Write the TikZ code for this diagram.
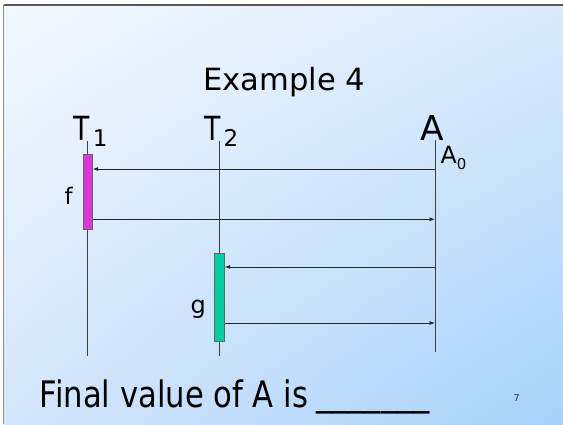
\documentclass[tikz,border=0pt]{standalone}
\usepackage{fontspec}
\setmainfont{DejaVu Sans}
\usepackage{graphicx}
\usetikzlibrary{arrows.meta,shadings}
\definecolor{fondoA}{HTML}{F4F9FE}
\definecolor{fondoB}{HTML}{DAEAFC}
\definecolor{fondoC}{HTML}{D4E6FB}
\definecolor{fondoD}{HTML}{A6D2FA}
\definecolor{magf}{HTML}{DC36D8}
\definecolor{verdeg}{HTML}{00D0A2}
\definecolor{numgris}{HTML}{2F3F55}
\tikzset{
  lbl/.style={inner sep=0pt,anchor=base west},
  lifeline/.style={draw=black!75,line width=0.9pt},
  msg/.style={-{Latex[length=5.5pt,width=4pt]},line width=0.8pt,black!85},
  act/.style={draw=black!60,line width=0.8pt,inner sep=0pt,minimum width=9pt}
}
\newcommand{\fs}[1]{\fontsize{#1}{#1}\selectfont}
\begin{document}
\begin{tikzpicture}[x=1pt,y=-1pt]
  \useasboundingbox (0,0) rectangle (563,424);
  % fondo
  \fill[white] (0,0) rectangle (563,424);
  \shade[upper left=fondoA,upper right=fondoB,lower left=fondoC,lower right=fondoD]
    (3.5,4.5) rectangle (563,424);
  \draw[black!65,line width=2pt] (3.5,4.5)--(563,4.5);
  \draw[black!45,line width=1.5pt] (3.5,4.5)--(3.5,424);
  % titulo
  \node[inner sep=0pt,anchor=base,font=\fs{30.6}] (titulo) at (284.5,90) {Example 4};
  % etiquetas
  \node[lbl,font=\fs{33.3}] (t1) at (73.5,140)
    {\scalebox{.8}[1]{T}\hspace{3pt}\raisebox{-6.7pt}{\fs{23}1}};
  \node[lbl,font=\fs{33.3}] (t2) at (204.5,140)
    {\scalebox{.8}[1]{T}\hspace{2.6pt}\raisebox{-6.7pt}{\fs{23}2}};
  \node[inner sep=0pt,anchor=base,font=\fs{34.3}] (a) at (432,140) {A};
  \node[lbl,font=\fs{23.7}] (a0) at (440.5,163.3)
    {A\raisebox{-6pt}{\fs{15}0}};
  % lineas de vida
  \coordinate (t1top) at (87.7,141); \coordinate (t1bot) at (87.7,356);
  \coordinate (t2top) at (219,141);  \coordinate (t2bot) at (219,356);
  \coordinate (atop) at (435,140);   \coordinate (abot) at (435,351.7);
  \draw[lifeline] (t1top)--(t1bot);
  \draw[lifeline] (t2top)--(t2bot);
  \draw[lifeline] (atop)--(abot);
  % activaciones f, g
  \node[act,fill=magf,minimum height=74.7pt] (fbox) at (87.8,191.65) {};
  \node[act,fill=verdeg,minimum width=10pt,minimum height=88.4pt] (gbox) at (219.3,297.5) {};
  \node[lbl,font=\fs{22.8}] (flab) at (64.5,204) {f};
  \node[lbl,font=\fs{24}] (glab) at (190.3,313) {g};
  % mensajes
  \coordinate (m1) at (435,169);
  \coordinate (m2) at (435,219.3);
  \coordinate (m3) at (435,267);
  \coordinate (m4) at (435,323);
  \draw[msg] (m1)--(fbox.east |- m1);
  \draw[msg] (fbox.east |- m2)--(m2);
  \draw[msg] (m3)--(gbox.east |- m3);
  \draw[msg] (gbox.east |- m4)--(m4);
  % pie
  \node[lbl,font=\fs{36.5}] (final) at (39.5,407.3)
    {\scalebox{.84}[1]{Final value of A is}\hspace{8pt}\raisebox{2pt}{\scalebox{.89}[1]{\_\_\_\_\_\_\_}}};
  \node[lbl,font=\fs{9.6},text=numgris] (num) at (513.5,401.7) {7};
\end{tikzpicture}
\end{document}
